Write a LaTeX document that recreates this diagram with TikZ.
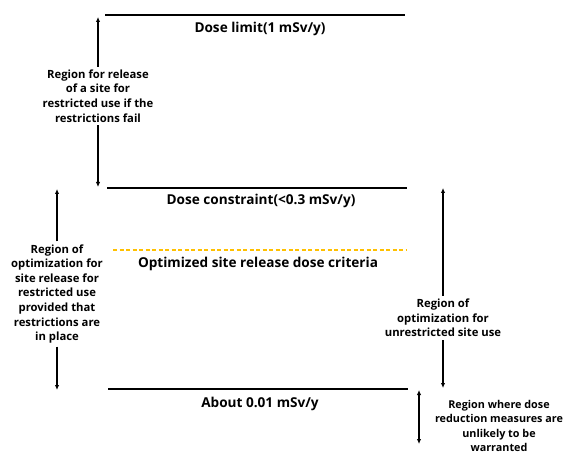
\documentclass[tikz,border=0pt]{standalone}
\usepackage{fontspec}
\setmainfont{Open Sans}
\usetikzlibrary{arrows.meta,positioning}
\definecolor{gold}{RGB}{255,192,0}

\tikzset{
  level/.style={line width=2.6pt},
  levellabel/.style={font=\bfseries\fontsize{13.6}{15}\selectfont, inner sep=0pt},
  regionlabel/.style={font=\bfseries\fontsize{11.3}{14.6}\selectfont, align=center, fill=white, inner sep=3pt},
  regarrow/.style={-{Latex[length=5pt,width=4.5pt]}, line width=1.2pt},
}

\begin{document}
\begin{tikzpicture}[x=1pt,y=-1pt]
  \useasboundingbox (0,0) rectangle (565,454);

  % dose levels
  \draw[level] (105,15) -- (405,15);
  \node[levellabel] (limit) at (260,29) {Dose limit(1 mSv/y)};
  \draw[level] (107,188) -- (407,188);
  \node[levellabel] (constraint) at (261,201) {Dose constraint(<0.3 mSv/y)};
  \draw[gold, line width=1.5pt, dash pattern=on 4pt off 2.5pt] (113,250) -- (406,250);
  \node[levellabel] (optimized) at (258,264) {Optimized site release dose criteria};
  \draw[level] (108,389) -- (408,389);
  \node[levellabel] (about) at (260,404) {About 0.01 mSv/y};

  % regions
  \coordinate (failtop) at (98,17);
  \coordinate (failbot) at (98,187);
  \node[regionlabel] (fail) at (98,96) {Region for release\\of a site for\\restricted use if the\\restrictions fail};
  \draw[regarrow] (fail.north) -- (failtop);
  \draw[regarrow] (fail.south) -- (failbot);

  \coordinate (restop) at (57,189);
  \coordinate (resbot) at (57,390);
  \node[regionlabel] (restricted) at (57,294) {Region of\\optimization for\\site release for\\restricted use\\provided that\\restrictions are\\in place};
  \draw[regarrow] (restricted.north) -- (restop);
  \draw[regarrow] (restricted.south) -- (resbot);

  \coordinate (unrtop) at (443,188);
  \coordinate (unrbot) at (443,388);
  \node[regionlabel] (unrestricted) at (443,318) {Region of\\optimization for\\unrestricted site use};
  \draw[regarrow] (unrestricted.north) -- (unrtop);
  \draw[regarrow] (unrestricted.south) -- (unrbot);

  \coordinate (lowtop) at (419,390);
  \coordinate (lowbot) at (419,444);
  \draw[regarrow, {Latex[length=5pt,width=4.5pt]}-{Latex[length=5pt,width=4.5pt]}] (lowtop) -- (lowbot);
  \node[regionlabel, fill=none, font=\bfseries\fontsize{10.8}{14.6}\selectfont] (unlikely) at (499,426) {Region where dose\\reduction measures are\\unlikely to be\\warranted};
\end{tikzpicture}
\end{document}
